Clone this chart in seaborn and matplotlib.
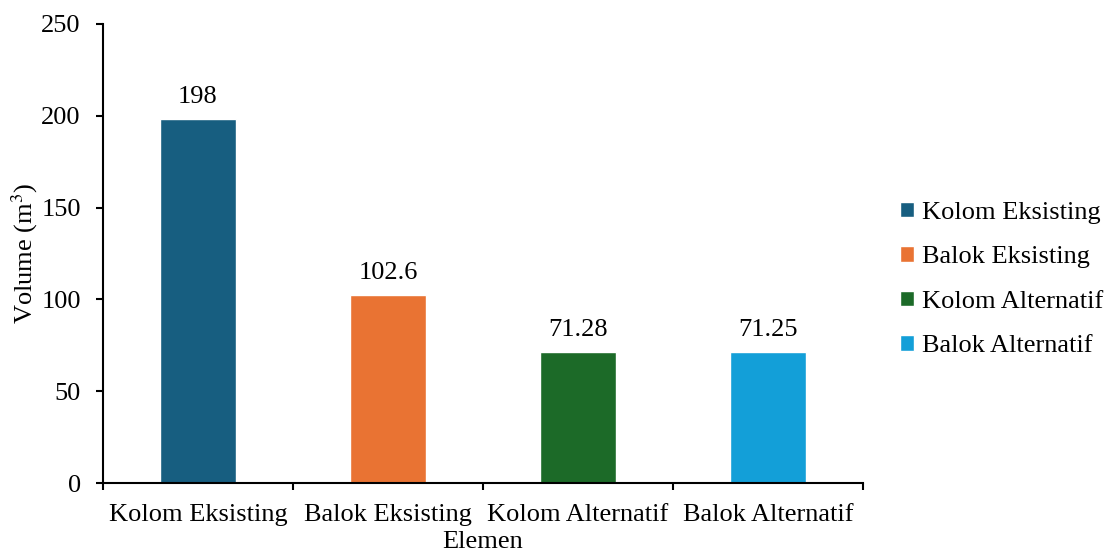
import numpy as np
import pandas as pd
import matplotlib
matplotlib.use("Agg")
import matplotlib.pyplot as plt
import seaborn as sns
from matplotlib.ticker import FixedLocator

# data
elemen = ["Kolom Eksisting", "Balok Eksisting", "Kolom Alternatif", "Balok Alternatif"]
volume = [198, 102.6, 71.28, 71.25]
label_txt = ["198", "102.6", "71.28", "71.25"]
warna = ["#175E80", "#E97333", "#1C6A28", "#139FD8"]

sns.set_style("white")
plt.rcParams["font.family"] = ["Liberation Serif", "DejaVu Serif"]
plt.rcParams["mathtext.fontset"] = "stix"
plt.rcParams["text.color"] = "black"
plt.rcParams["axes.labelcolor"] = "black"
plt.rcParams["xtick.color"] = "black"
plt.rcParams["ytick.color"] = "black"

fs = 19

df = pd.DataFrame({"Elemen": elemen, "Volume": volume})

fig, ax = plt.subplots(figsize=(11.1, 5.53), dpi=100)
fig.subplots_adjust(left=103/1110, right=863/1110, top=1-24/553, bottom=1-483/553)

sns.barplot(data=df, x="Elemen", y="Volume", hue="Elemen", palette=warna,
            width=0.4, dodge=False, legend=True, saturation=1, ax=ax)

for cont, t in zip(ax.containers, label_txt):
    ax.bar_label(cont, labels=[t], padding=8, fontsize=fs, color="black")

ax.set_xlim(-0.5, 3.5)
ax.set_ylim(0, 250)
ax.set_yticks([0, 50, 100, 150, 200, 250])
ax.tick_params(axis="y", labelsize=fs, length=5, width=1.5, direction="out", left=True, pad=11)
# category labels centered, ticks on boundaries
ax.set_xticks(range(4))
ax.set_xticklabels(elemen, fontsize=fs)
ax.tick_params(axis="x", which="major", length=0, pad=15)
ax.xaxis.set_minor_locator(FixedLocator([-0.5, 0.5, 1.5, 2.5, 3.5]))
ax.tick_params(axis="x", which="minor", length=5, width=1.5, direction="out", bottom=True)

for s in ["top", "right"]:
    ax.spines[s].set_visible(False)
for s in ["left", "bottom"]:
    ax.spines[s].set_color("black")
    ax.spines[s].set_linewidth(1.5)

ax.set_xlabel("Elemen", fontsize=fs, labelpad=4)
ax.set_ylabel("Volume (m$^3$)", fontsize=fs, labelpad=1)

leg = ax.legend(loc="center left", bbox_to_anchor=(900/1110, 0.5 - 3/553), bbox_transform=fig.transFigure,
                frameon=False, fontsize=fs, handlelength=0.53, handleheight=0.53,
                handletextpad=0.3, labelspacing=0.85, borderaxespad=0, borderpad=0, title=None)

fig.savefig("out.png", dpi=100)
